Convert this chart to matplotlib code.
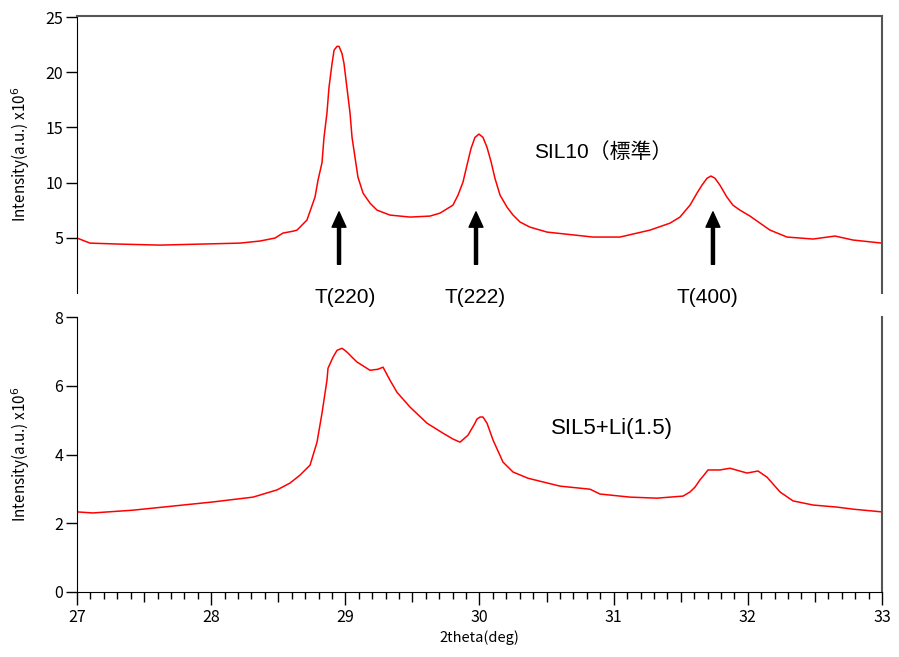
import numpy as np
import matplotlib
matplotlib.use("Agg")
import matplotlib.pyplot as plt
from matplotlib.ticker import FixedLocator

plt.rcParams['font.family'] = ['Noto Sans CJK JP', 'DejaVu Sans']

# SIL10 (standard)
x_sil10 = [27.000, 27.097, 27.320, 27.619, 27.917, 28.215, 28.364, 28.476, 28.535, 28.610,
           28.640, 28.714, 28.774, 28.796, 28.826, 28.841, 28.863, 28.878, 28.901, 28.916,
           28.938, 28.953, 28.975, 28.990, 29.012, 29.035, 29.050, 29.072, 29.094, 29.132,
           29.184, 29.236, 29.333, 29.482, 29.631, 29.706, 29.802, 29.840, 29.877, 29.907,
           29.937, 29.966, 29.996, 30.026, 30.056, 30.086, 30.115, 30.153, 30.205, 30.250,
           30.302, 30.376, 30.503, 30.846, 31.047, 31.271, 31.420, 31.494, 31.569, 31.621,
           31.658, 31.696, 31.725, 31.755, 31.792, 31.844, 31.889, 31.941, 32.016, 32.091,
           32.165, 32.292, 32.486, 32.650, 32.784, 33.000]
y_sil10 = [4.98, 4.52, 4.43, 4.34, 4.43, 4.52, 4.71, 4.98, 5.43, 5.60,
           5.70, 6.61, 8.69, 10.20, 11.80, 14.10, 16.30, 18.60, 20.80, 22.00,
           22.35, 22.35, 21.70, 20.80, 18.60, 16.30, 14.10, 12.30, 10.50, 9.05,
           8.14, 7.51, 7.06, 6.88, 6.97, 7.24, 7.96, 8.87, 10.05, 11.60,
           13.10, 14.10, 14.40, 14.10, 13.20, 11.90, 10.40, 8.87, 7.78, 7.06,
           6.43, 5.97, 5.52, 5.07, 5.07, 5.70, 6.33, 6.88, 7.96, 9.05,
           9.77, 10.40, 10.60, 10.40, 9.77, 8.69, 7.96, 7.51, 6.97, 6.33,
           5.70, 5.07, 4.89, 5.16, 4.80, 4.52]

# SIL5+Li(1.5)
x_sil5 = [27.000, 27.119, 27.417, 27.716, 28.014, 28.312, 28.491, 28.588, 28.662, 28.737,
          28.789, 28.826, 28.863, 28.871, 28.908, 28.938, 28.975, 28.997, 29.020, 29.050,
          29.087, 29.184, 29.243, 29.281, 29.333, 29.385, 29.482, 29.609, 29.728, 29.802,
          29.855, 29.914, 29.966, 29.981, 30.004, 30.026, 30.056, 30.101, 30.175, 30.250,
          30.361, 30.600, 30.824, 30.898, 31.122, 31.323, 31.517, 31.569, 31.606, 31.643,
          31.673, 31.703, 31.792, 31.867, 31.994, 32.076, 32.143, 32.240, 32.337, 32.486,
          32.664, 32.784, 33.000]
y_sil5 = [2.33, 2.30, 2.38, 2.50, 2.62, 2.76, 2.97, 3.17, 3.40, 3.69,
          4.36, 5.20, 6.16, 6.51, 6.83, 7.03, 7.09, 7.03, 6.95, 6.83,
          6.69, 6.45, 6.48, 6.54, 6.16, 5.81, 5.38, 4.91, 4.62, 4.45,
          4.36, 4.56, 4.91, 5.03, 5.09, 5.09, 4.91, 4.42, 3.78, 3.49,
          3.31, 3.08, 2.99, 2.85, 2.76, 2.73, 2.79, 2.91, 3.05, 3.26,
          3.40, 3.55, 3.55, 3.60, 3.46, 3.52, 3.34, 2.91, 2.65, 2.53,
          2.47, 2.41, 2.33]

peak_pos = [28.953, 29.974, 31.740]
peak_text_x = [29.0, 29.97, 31.70]
peak_labels = ['T(220)', 'T(222)', 'T(400)']

ylabel = r'Intensity(a.u.) x10$^{6}$'
grey = '#555555'

fig = plt.figure(figsize=(8.99, 6.57), dpi=100)
ax1 = fig.add_axes([77/899, 1-293/657, 805/899, 277/657])
ax2 = fig.add_axes([77/899, 1-592/657, 805/899, 275/657])

# top panel
ax1.plot(x_sil10, y_sil10, color='red', lw=1.1)
ax1.set_xlim(27, 33)
ax1.set_ylim(0, 25.1)
ax1.set_yticks([5, 10, 15, 20, 25])
ax1.tick_params(axis='x', bottom=False, labelbottom=False)
ax1.spines['bottom'].set_visible(False)
ax1.spines['top'].set_color(grey)
ax1.spines['right'].set_color(grey)
ax1.spines['top'].set_linewidth(1.5)
ax1.spines['right'].set_linewidth(1.5)
ax1.set_ylabel(ylabel, fontsize=11)
ax1.yaxis.set_label_coords(-0.056, 0.5)
ax1.text(30.92, 12.8, 'SIL10（標準）', fontsize=15, ha='center', va='center',
         family=['Liberation Sans', 'Noto Sans CJK JP'])

for xp, xt, lab in zip(peak_pos, peak_text_x, peak_labels):
    ax1.annotate('', xy=(xp, 7.35), xytext=(xp, 2.6),
                 arrowprops=dict(facecolor='black', edgecolor='black', width=2.2,
                                 headwidth=10, headlength=11, shrink=0))
    ax1.text(xt, -0.4, lab, fontsize=15, ha='center', va='center', clip_on=False,
             family=['Liberation Sans', 'DejaVu Sans'])

# bottom panel
ax2.plot(x_sil5, y_sil5, color='red', lw=1.1)
ax2.set_xlim(27, 33)
ax2.set_ylim(0, 8)
ax2.set_yticks([0, 2, 4, 6, 8])
ax2.set_xticks([27, 28, 29, 30, 31, 32, 33])
tenths = [t for t in np.round(np.arange(27, 33.001, 0.1), 1) if abs(t * 2 - round(t * 2)) > 1e-6]
ax2.xaxis.set_minor_locator(FixedLocator(tenths))
ax2.tick_params(axis='x', which='major', length=9, width=1)
ax2.tick_params(axis='x', which='minor', length=5, width=1)
sec = ax2.secondary_xaxis('bottom')
sec.set_xticks([27.5, 28.5, 29.5, 30.5, 31.5, 32.5])
sec.tick_params(length=7, width=1, labelbottom=False)
sec.spines['bottom'].set_visible(False)
ax2.spines['top'].set_visible(False)
ax2.spines['right'].set_color(grey)
ax2.spines['right'].set_linewidth(1.5)
ax2.set_ylabel(ylabel, fontsize=11)
ax2.yaxis.set_label_coords(-0.056, 0.5)
ax2.set_xlabel('2theta(deg)', fontsize=10.5, labelpad=3)
ax2.text(30.99, 4.75, 'SIL5+Li(1.5)', fontsize=16, ha='center', va='center',
         family=['Liberation Sans', 'DejaVu Sans'])

for ax in (ax1, ax2):
    ax.tick_params(axis='y', length=8, width=1, labelsize=11.5, pad=2)
    ax.tick_params(axis='x', labelsize=11.5)

fig.savefig('out.png', dpi=100)
